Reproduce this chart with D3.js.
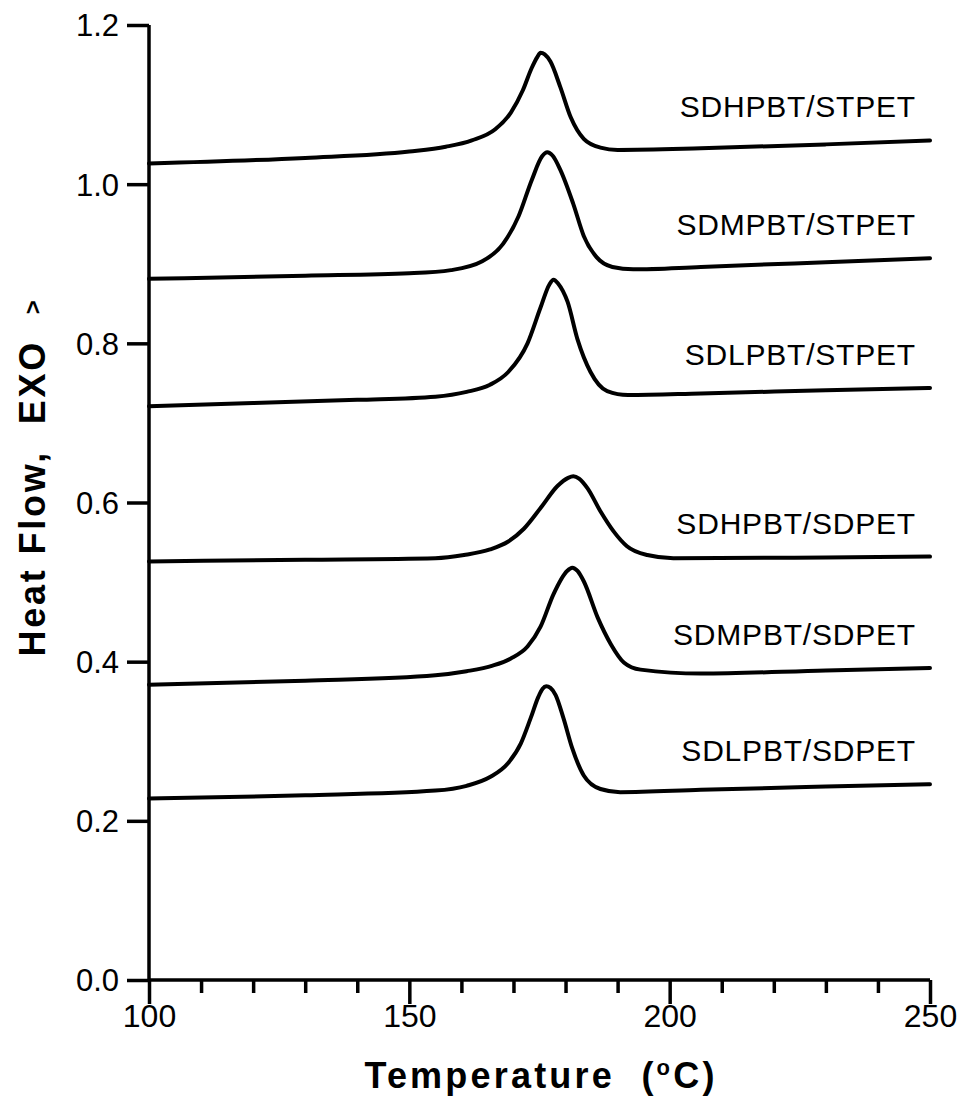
<!DOCTYPE html>
<html>
<head>
<meta charset="utf-8">
<script src="https://cdn.jsdelivr.net/npm/d3@7"></script>
<style>
  body { margin: 0; background: #fff; }
  text { font-family: "Liberation Sans", Arial, sans-serif; fill: #000; }
  .curve { fill: none; stroke: #000; stroke-width: 4px; stroke-linejoin: round; stroke-linecap: round; }
  .axis path, .axis line { stroke: #000; stroke-width: 3.5px; }
</style>
</head>
<body>
<svg class="chart"></svg>
<script>
// DSC cooling scans, heat flow vs temperature (exo up)
var seriesNames = ["SDHPBT/STPET", "SDMPBT/STPET", "SDLPBT/STPET",
                   "SDHPBT/SDPET", "SDMPBT/SDPET", "SDLPBT/SDPET"];

var tempsHSt = [100, 130, 150, 157, 162, 166.5, 169.5, 171.8, 173.5, 174.6, 175.2, 176, 177.1, 179, 181, 183.5, 186.7, 190, 206, 230, 250];
var flowHSt  = [1.026, 1.033, 1.041, 1.047, 1.055, 1.069, 1.090, 1.118, 1.146, 1.160, 1.165, 1.163, 1.154, 1.122, 1.084, 1.057, 1.046, 1.043, 1.045, 1.050, 1.055];

var tempsMSt = [100, 130, 150, 158, 164, 168, 171, 173.5, 175.5, 176.5, 177.5, 179, 181.5, 183.5, 186, 189, 193, 206, 230, 250];
var flowMSt  = [0.881, 0.885, 0.888, 0.892, 0.903, 0.925, 0.960, 1.005, 1.035, 1.040, 1.036, 1.018, 0.975, 0.935, 0.908, 0.896, 0.893, 0.896, 0.902, 0.907];

var tempsLSt = [100, 120, 140, 155, 161, 165.5, 169, 172.7, 175.2, 176.9, 177.7, 178.6, 180.4, 182.3, 184.8, 188, 192, 206, 230, 250];
var flowLSt  = [0.721, 0.725, 0.729, 0.733, 0.739, 0.748, 0.764, 0.800, 0.845, 0.874, 0.880, 0.875, 0.852, 0.805, 0.764, 0.740, 0.735, 0.737, 0.741, 0.744];

var tempsHSd = [100, 130, 155, 160.5, 165.5, 169, 172, 175.2, 178.5, 180.5, 181.5, 182.6, 184.2, 186.7, 189.2, 191.8, 195.7, 200.7, 230, 250];
var flowHSd  = [0.526, 0.528, 0.530, 0.534, 0.541, 0.551, 0.567, 0.593, 0.621, 0.631, 0.633, 0.630, 0.618, 0.589, 0.564, 0.545, 0.534, 0.530, 0.531, 0.532];

var tempsMSd = [100, 130, 155, 161, 166, 169.5, 172.7, 175.2, 177.7, 180.3, 181.3, 182.3, 183.5, 186.2, 188.7, 191.2, 194.4, 206, 230, 250];
var flowMSd  = [0.371, 0.376, 0.383, 0.388, 0.395, 0.404, 0.419, 0.444, 0.485, 0.514, 0.518, 0.514, 0.501, 0.455, 0.422, 0.399, 0.390, 0.385, 0.389, 0.392];

var tempsLSd = [100, 130, 155, 161, 165.5, 168.9, 171.4, 173.3, 174.8, 175.6, 176.3, 177.1, 178.1, 179.6, 181.3, 183.5, 186.7, 190.5, 206, 230, 250];
var flowLSd  = [0.228, 0.232, 0.238, 0.244, 0.255, 0.272, 0.297, 0.329, 0.356, 0.366, 0.369, 0.367, 0.358, 0.329, 0.291, 0.257, 0.240, 0.236, 0.239, 0.243, 0.246];

var xTicks = [100, 150, 200, 250];
var yTicks = [0.0, 0.2, 0.4, 0.6, 0.8, 1.0, 1.2];

var allTemps = [tempsHSt, tempsMSt, tempsLSt, tempsHSd, tempsMSd, tempsLSd];
var allFlows = [flowHSt, flowMSt, flowLSt, flowHSd, flowMSd, flowLSd];

var width = 963, height = 1104;

var svg = d3.select(".chart")
    .attr("width", width)
    .attr("height", height);

var x = d3.scaleLinear().domain([100, 250]).range([149, 930]);
var y = d3.scaleLinear().domain([0, 1.2]).range([980, 25]);

// x axis: major ticks every 50, minor every 10, both pointing down
var xAxis = svg.append("g")
    .attr("class", "axis")
    .attr("transform", "translate(0," + y(0) + ")")
    .call(d3.axisBottom(x).tickValues(d3.range(100, 251, 10)).tickSize(13).tickFormat(""));
xAxis.select(".domain").attr("d", "M" + x(100) + ",0H" + x(250));
xAxis.selectAll(".tick line")
    .attr("y2", function(d) { return xTicks.indexOf(d) >= 0 ? 24 : 13; });
xAxis.selectAll(".tick").filter(function(d) { return xTicks.indexOf(d) >= 0; })
    .append("text")
    .attr("y", 47)
    .attr("text-anchor", "middle")
    .style("font-size", "32px")
    .text(function(d) { return d; });

// y axis
var yAxis = svg.append("g")
    .attr("class", "axis")
    .attr("transform", "translate(" + x(100) + ",0)")
    .call(d3.axisLeft(y).tickValues(yTicks).tickSize(22).tickFormat(d3.format(".1f")));
yAxis.select(".domain").attr("d", "M0," + y(1.2) + "V" + y(0));
yAxis.selectAll(".tick text")
    .attr("x", -30)
    .attr("dy", "0.35em")
    .style("font-size", "31px")
    .style("font-family", "'Liberation Sans', Arial, sans-serif");

// curves
var line = d3.line()
    .x(function(d) { return x(d[0]); })
    .y(function(d) { return y(d[1]); })
    .curve(d3.curveMonotoneX);

allTemps.forEach(function(t, i) {
    var pts = t.map(function(v, j) { return [v, allFlows[i][j]]; });
    svg.append("path")
        .attr("class", "curve")
        .attr("d", line(pts));

    var last = pts[pts.length - 1];
    svg.append("text")
        .attr("x", x(last[0]) - 14)
        .attr("y", y(last[1]) - 23)
        .attr("text-anchor", "end")
        .style("font-size", "30px")
        .style("letter-spacing", "0.8px")
        .text(seriesNames[i]);
});

// axis titles
svg.append("text")
    .attr("x", 541)
    .attr("y", 1088)
    .attr("text-anchor", "middle")
    .style("font-size", "36px")
    .style("font-weight", "bold")
    .style("letter-spacing", "3.2px")
    .html('Temperature&#160;&#160;(<tspan dy="-13" font-size="22px">o</tspan><tspan dy="13">C)</tspan>');

svg.append("text")
    .attr("transform", "translate(45,477) rotate(-90)")
    .attr("text-anchor", "middle")
    .style("font-size", "36px")
    .style("font-weight", "bold")
    .style("letter-spacing", "2.8px")
    .html('Heat Flow,&#160;&#160;EXO&#160;&#160;<tspan font-size="24px" dy="-4">&gt;</tspan>');
</script>
</body>
</html>
